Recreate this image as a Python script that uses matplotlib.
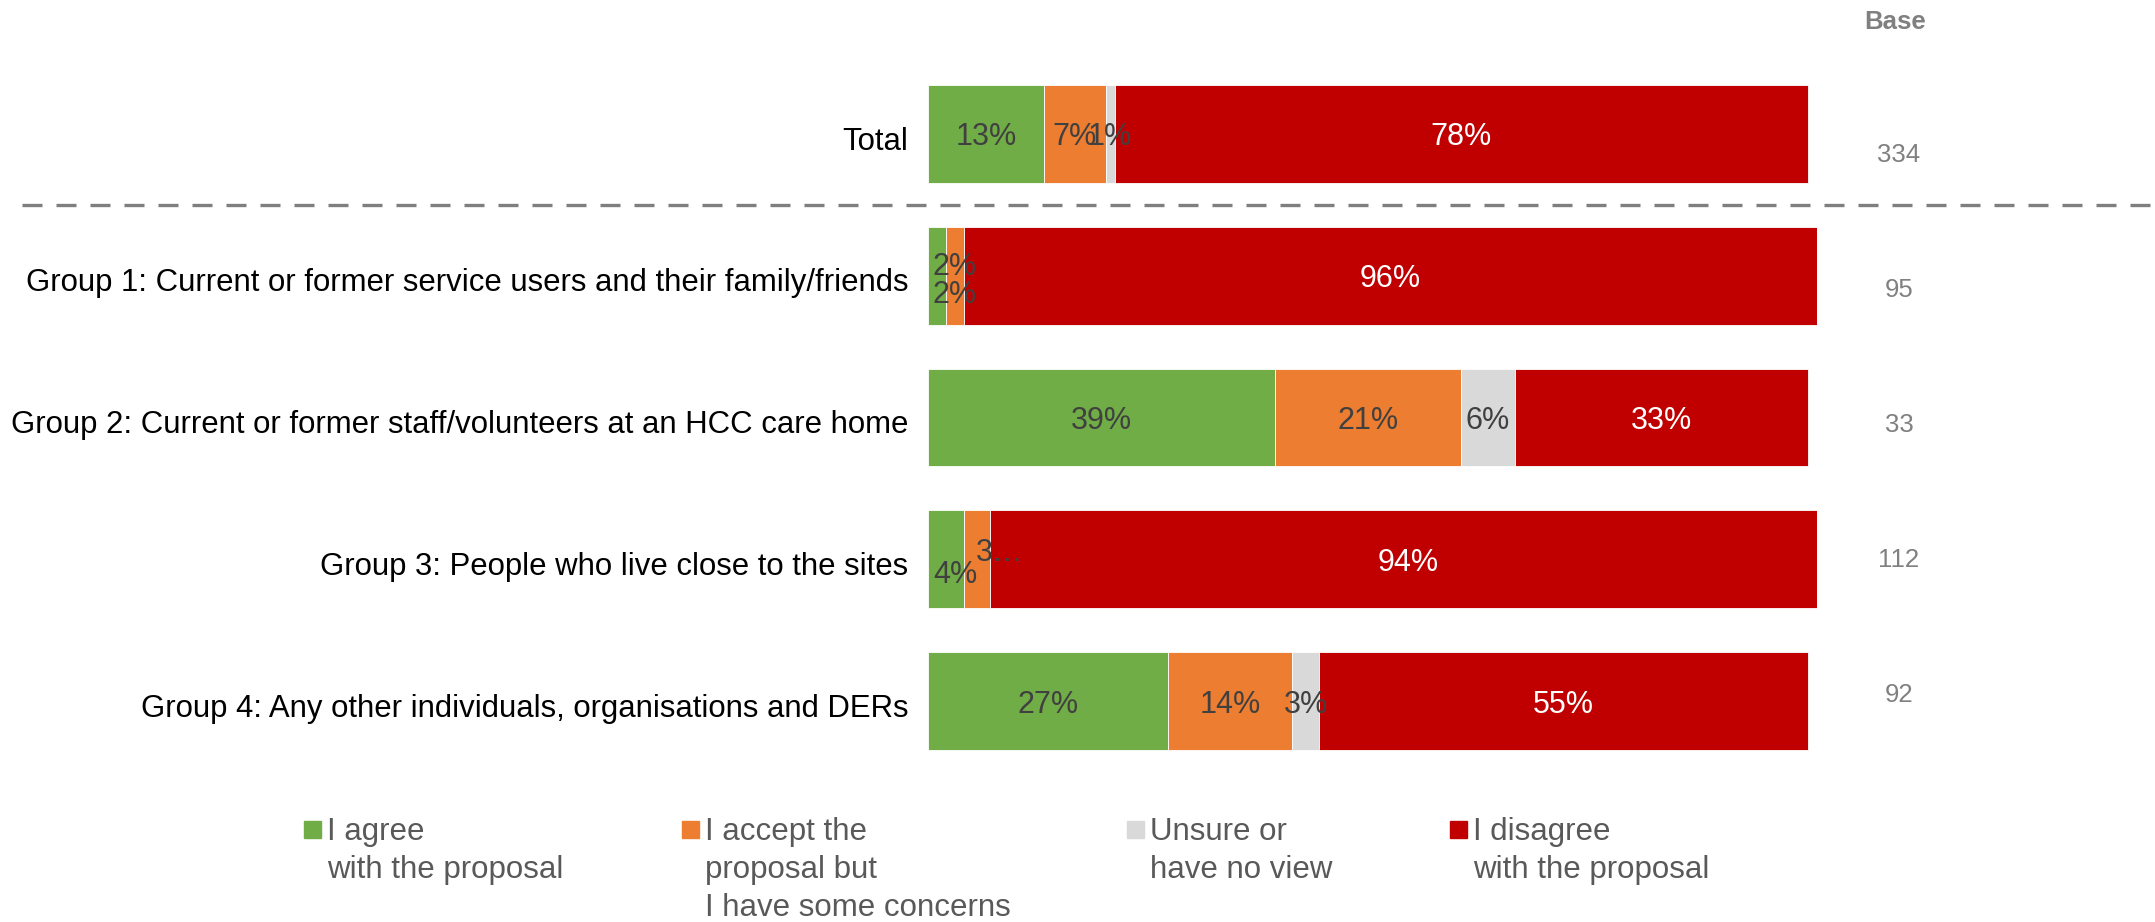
import matplotlib
matplotlib.use('Agg')
import matplotlib.pyplot as plt
from matplotlib.patches import Rectangle
from matplotlib import transforms

plt.rcParams['font.family'] = ['Liberation Sans', 'DejaVu Sans']

categories = ['Total',
              'Group 1: Current or former service users and their family/friends',
              'Group 2: Current or former staff/volunteers at an HCC care home',
              'Group 3: People who live close to the sites',
              'Group 4: Any other individuals, organisations and DERs']
agree = [13, 2, 39, 4, 27]
accept = [7, 2, 21, 3, 14]
unsure = [1, 0, 6, 0, 3]
disagree = [78, 96, 33, 94, 55]
bases = [334, 95, 33, 112, 92]
legend_lines = [['I agree', 'with the proposal'],
                ['I accept the', 'proposal but', 'I have some concerns'],
                ['Unsure or', 'have no view'],
                ['I disagree', 'with the proposal']]

colors = ['#70AD47', '#ED7D31', '#D9D9D9', '#C00000']
text_colors = ['#404040', '#404040', '#404040', 'white']

W, H = 2155, 922
fig = plt.figure(figsize=(W / 100, H / 100), dpi=100)
ax = fig.add_axes([928 / W, 1 - 772 / H, 889 / W, 709 / H])
ax.set_xlim(0, 100)
ax.set_ylim(4.5, -0.5)
ax.axis('off')

series = [agree, accept, unsure, disagree]
# label nudges (points) where Excel moved overlapping labels
nudge = {(1, 0): (13, 9), (1, 1): (0, -11.5), (3, 0): (7, -8.5), (3, 1): (16, 7)}
override = {(3, 1): '3\u2026'}

rows = range(len(categories))
left = [0] * len(categories)
for s, vals in enumerate(series):
    ax.barh(rows, vals, left=left, height=0.69, color=colors[s],
            edgecolor='white', linewidth=0.6)
    for i in rows:
        v = vals[i]
        if v > 0:
            txt = override.get((i, s), f'{v}%')
            dx, dy = nudge.get((i, s), (0, 0))
            ax.annotate(txt, xy=(left[i] + v / 2, i), xytext=(dx, dy - 2.5),
                        textcoords='offset points', ha='center', va='center',
                        fontsize=22, color=text_colors[s])
    left = [l + v for l, v in zip(left, vals)]

for i, cat in enumerate(categories):
    ax.annotate(cat, xy=(0, i), xytext=(-14, -5.5), textcoords='offset points',
                ha='right', va='center', fontsize=22.4, color='black')
    ax.text(1899 / W, 1 - (155 + 135 * i) / H, str(bases[i]), transform=fig.transFigure,
            ha='center', va='center', fontsize=18.5, color='#808080')

fig.text(1895 / W, 1 - 22 / H, 'Base', ha='center', va='center',
         fontsize=18.5, fontweight='bold', color='#808080')

trans = transforms.blended_transform_factory(fig.transFigure, ax.transData)
ax.plot([22 / W, 1], [0.5, 0.5], transform=trans, clip_on=False,
        color='#7F7F7F', linewidth=2.4, dashes=(6.0, 4.2))

legend_x = [304, 682, 1127, 1450]
for k, lines in enumerate(legend_lines):
    x0 = legend_x[k]
    fig.patches.append(Rectangle((x0 / W, 1 - 838 / H), 17 / W, 17 / H,
                                 transform=fig.transFigure, color=colors[k]))
    for j, line in enumerate(lines):
        fig.text((x0 + 23) / W, 1 - (832 + 38 * j) / H, line, ha='left', va='center',
                 fontsize=22.5, color='#595959')

fig.savefig('out.png', dpi=100)
